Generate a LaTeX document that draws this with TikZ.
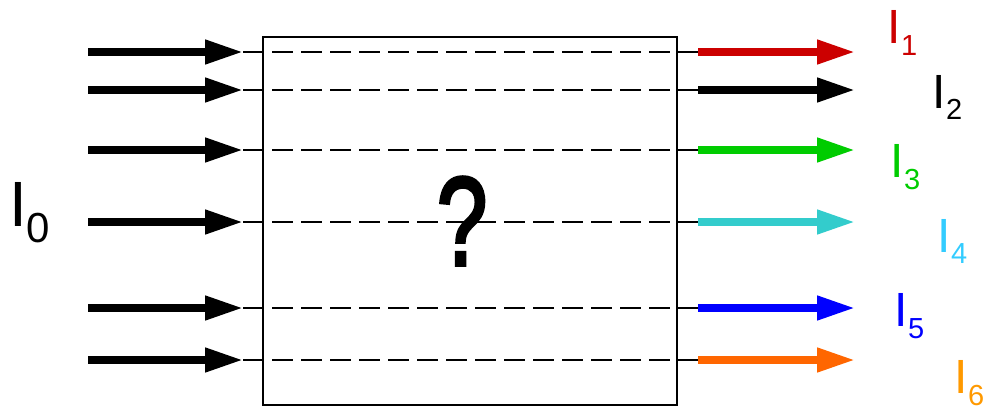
\documentclass[tikz,border=0pt]{standalone}
\usepackage{fontspec}
\setmainfont{Liberation Sans}
\newfontfamily\heavyfont[FakeBold=3]{Liberation Sans}
\usetikzlibrary{arrows.meta,positioning}

\definecolor{beamred}{HTML}{CC0000}
\definecolor{beamgreen}{HTML}{00CC00}
\definecolor{beamcyan}{HTML}{33CCCC}
\definecolor{beamblue}{HTML}{0000FF}
\definecolor{beamorange}{HTML}{FF6600}
\definecolor{lblcyan}{HTML}{33CCFF}
\definecolor{lblorange}{HTML}{FF9900}

% intensity label: size of I, size of index, drop of index, index
\newcommand{\intens}[4]{{\fontsize{#1}{#1}\selectfont I}\raisebox{-#3}{\fontsize{#2}{#2}\selectfont #4}}

\begin{document}
\begin{tikzpicture}[
  x=1pt, y=-1pt,
  beam/.style={line width=7.5pt, -{Triangle[length=38pt, width=23pt]}},
  trace/.style={line width=2.4pt, dash pattern=on 21pt off 8pt},
  sample/.style={draw, line width=2.2pt, inner sep=0pt, minimum width=414pt, minimum height=368pt, anchor=north west},
  lbl/.style={anchor=base west, inner sep=0pt}
]
\useasboundingbox (0,0) rectangle (983,407);

\node[sample] (box) at (262,36) {};
\node[font=\heavyfont\fontsize{126}{126}\selectfont, xshift=-8pt] (what) at (box.center) {\scalebox{0.72}[1]{?}};

% Beams
\foreach \y/\col [count=\i] in {52/beamred,90/black,150/beamgreen,222/beamcyan,308/beamblue,360/beamorange}{
  \coordinate (src\i) at (88,\y);
  \coordinate (hit\i) at (243,\y);
  \coordinate (exit\i) at (698,\y);
  \coordinate (out\i) at (855,\y);
  \draw[beam] (src\i) -- (hit\i);
  \draw[trace] (hit\i) -- (exit\i);
  \draw[beam, \col] (exit\i) -- (out\i);
}

% Labels
\node[lbl] (I0) at (9,226) {\intens{64}{42}{16pt}{0}};
\node[lbl, beamred] (I1) at (887.5,43) {\intens{48}{29}{12pt}{1}};
\node[lbl] (I2) at (932.5,108) {\intens{48}{29}{11pt}{2}};
\node[lbl, beamgreen] (I3) at (890.5,177) {\intens{48}{29}{12pt}{3}};
\node[lbl, lblcyan] (I4) at (937.5,252) {\intens{48}{29}{11pt}{4}};
\node[lbl, beamblue] (I5) at (894.5,326) {\intens{48}{29}{12pt}{5}};
\node[lbl, lblorange] (I6) at (954.5,393) {\intens{48}{29}{12pt}{6}};

\end{tikzpicture}
\end{document}
